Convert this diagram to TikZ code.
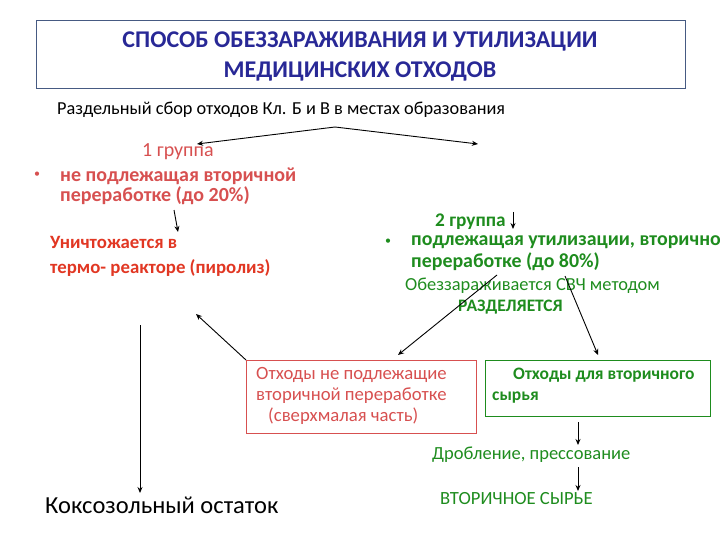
\documentclass[tikz,border=0pt]{standalone}
\usepackage{fontspec}
\setmainfont{Carlito}
\usetikzlibrary{arrows.meta}
\definecolor{tblue}{RGB}{40,40,150}
\definecolor{tframe}{RGB}{70,90,130}
\definecolor{lred}{RGB}{215,80,80}
\definecolor{dred}{RGB}{225,55,35}
\definecolor{gr}{RGB}{30,140,30}
\tikzset{
  txt/.style={inner sep=0pt, anchor=west, align=left},
  arr/.style={-{Stealth[length=6pt,width=5pt]}, line width=0.9pt, black},
  ln/.style={line width=0.9pt, black}
}
\begin{document}
\begin{tikzpicture}[x=1pt,y=-1pt]
\useasboundingbox (0,0) rectangle (720,540);
% title
\node[draw=tframe, line width=0.8pt, minimum width=649pt, minimum height=68pt, anchor=north west, inner sep=0pt] (title) at (36,20) {};
\node[text=tblue, font=\fontsize{24}{30}\selectfont\bfseries, align=center] (titletxt) at (360,56) {СПОСОБ ОБЕЗЗАРАЖИВАНИЯ И УТИЛИЗАЦИИ\\МЕДИЦИНСКИХ ОТХОДОВ};
% separate collection
\node[txt, font=\fontsize{18.3}{20}\selectfont] (sbor) at (57,110) {Раздельный сбор отходов Кл. Б и В в местах образования};
\coordinate (split) at (335,127);
\coordinate (g1tip) at (197,144);
\coordinate (g2tip) at (478,144);
\draw[arr] (split) -- (g1tip);
\draw[arr] (split) -- (g2tip);
% group 1
\node[txt, text=lred, font=\fontsize{20}{20}\selectfont] (g1) at (142,152) {1 группа};
\node[txt, text=lred, font=\fontsize{12}{20}\selectfont] (b1) at (34,175) {•};
\node[txt, text=lred, font=\fontsize{20}{20}\selectfont\bfseries, align=left] (g1txt) at (60,186) {не подлежащая вторичной\\переработке (до 20\%)};
\coordinate (a1s) at (174,210);
\coordinate (a1e) at (178,232);
\draw[arr] (a1s) -- (a1e);
\node[txt, text=dred, font=\fontsize{18.8}{25}\selectfont\bfseries] (destroy) at (50,256) {Уничтожается в\\термо- реакторе (пиролиз)};
% group 2
\node[txt, text=gr, font=\fontsize{19.3}{20}\selectfont\bfseries] (g2) at (435,222) {2 группа};
\coordinate (a2s) at (513,212);
\coordinate (a2e) at (513,229);
\draw[arr] (a2s) -- (a2e);
\node[txt, text=gr, font=\fontsize{12}{20}\selectfont] (b2) at (385,242) {•};
\node[txt, text=gr, font=\fontsize{19.9}{22}\selectfont\bfseries] (g2txt) at (411,253) {подлежащая утилизации, вторично\\переработке (до 80\%)};
\node[txt, text=gr, font=\fontsize{18.4}{18}\selectfont] (svch) at (405,286) {Обеззараживается СВЧ методом};
\node[txt, text=gr, font=\fontsize{17.5}{18}\selectfont\bfseries] (razd) at (458,307) {РАЗДЕЛЯЕТСЯ};
% boxes
\node[draw=lred, line width=0.8pt, anchor=north west, minimum width=230pt, minimum height=73pt, inner sep=0pt] (redbox) at (246,360) {};
\node[txt, text=lred, font=\fontsize{18.7}{21}\selectfont] (redtxt) at (256,396) {Отходы не подлежащие\\вторичной переработке\\\hspace*{12pt}(сверхмалая часть)};
\node[draw=gr, line width=0.8pt, anchor=north west, minimum width=225pt, minimum height=56pt, inner sep=0pt] (grbox) at (485,360) {};
\node[txt, text=gr, font=\fontsize{17.5}{21}\selectfont\bfseries] (grtxt) at (492,386) {\hspace*{21pt}Отходы для вторичного\\сырья};
% arrows from razd
\coordinate (r1s) at (497,275);
\coordinate (r1e) at (398,355);
\coordinate (r2s) at (565,276);
\coordinate (r2e) at (598,355);
\draw[arr] (r1s) -- (r1e);
\draw[arr] (r2s) -- (r2e);
% back to pyrolysis
\coordinate (backtip) at (196,314);
\draw[arr] (redbox.north west) -- (backtip);
% residue
\coordinate (v1) at (140,325);
\node[txt, font=\fontsize{24.5}{24}\selectfont] (koks) at (45,505) {Коксозольный остаток};
\coordinate (v2) at (140,493);
\draw[arr] (v1) -- (v2);
% crushing
\node[txt, text=gr, font=\fontsize{18.5}{18}\selectfont] (drob) at (432,455) {Дробление, прессование};
\coordinate (c1) at (578,422);
\coordinate (c2) at (578,445);
\draw[arr] (c1) -- (c2);
\coordinate (c3) at (578,467);
\coordinate (c4) at (578,491);
\draw[arr] (c3) -- (c4);
\node[txt, text=gr, font=\fontsize{18.6}{18}\selectfont] (vtor) at (440,499) {ВТОРИЧНОЕ СЫРЬЕ};
\end{tikzpicture}
\end{document}
